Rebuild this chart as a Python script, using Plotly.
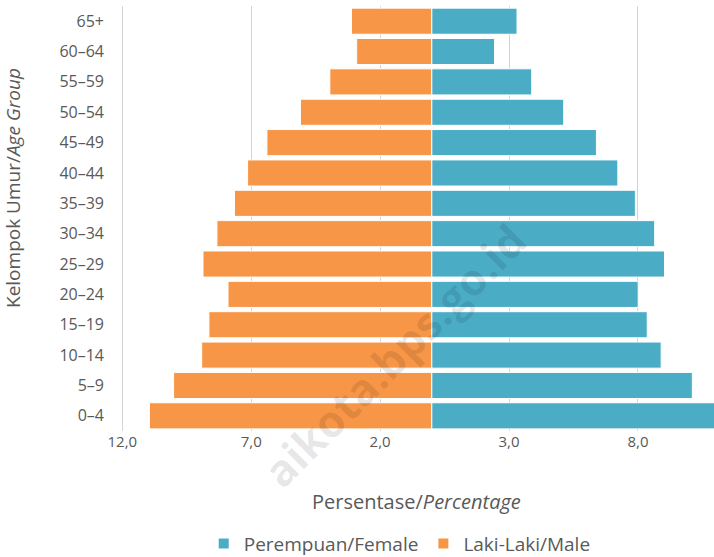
import plotly.graph_objects as go

age_groups = ["0–4", "5–9", "10–14", "15–19", "20–24", "25–29", "30–34",
              "35–39", "40–44", "45–49", "50–54", "55–59", "60–64", "65+"]
female = [11.3, 10.11, 8.90, 8.36, 8.01, 9.03, 8.65, 7.90, 7.22, 6.39, 5.12, 3.88, 2.44, 3.31]
male = [10.95, 10.01, 8.92, 8.64, 7.90, 8.87, 8.33, 7.65, 7.14, 6.39, 5.09, 3.95, 2.91, 3.11]
tick_vals = [-12, -7, -2, 3, 8]
tick_text = ["12,0", "7,0", "2,0", "3,0", "8,0"]

FONT = "Open Sans"
TXT = "#595959"

fig = go.Figure()
fig.add_trace(go.Bar(
    y=age_groups, x=female, orientation="h", name="Perempuan/Female",
    marker=dict(color="#4BACC6", line=dict(color="white", width=1)),
))
fig.add_trace(go.Bar(
    y=age_groups, x=[-v for v in male], orientation="h", name="Laki-Laki/Male",
    marker=dict(color="#F79646", line=dict(color="white", width=1)),
    customdata=male, hovertemplate="%{customdata}<extra></extra>",
))

fig.update_layout(
    width=714, height=557,
    margin=dict(l=121, r=0, t=6, b=126, autoexpand=False),
    barmode="relative", bargap=0.14,
    plot_bgcolor="white", paper_bgcolor="white",
    font=dict(family=FONT, color=TXT, size=15),
    legend=dict(orientation="h", x=0.47, xanchor="center", y=-0.265, yanchor="middle",
                font=dict(size=19, color=TXT), traceorder="normal",
                itemsizing="constant", itemwidth=30),
    xaxis=dict(range=[-12.05, 10.95], tickvals=tick_vals, ticktext=tick_text,
               showgrid=True, gridcolor="#D4D4D4", gridwidth=1.2, zeroline=False,
               showline=False, ticks="", tickfont=dict(size=15, color=TXT)),
    yaxis=dict(categoryorder="array", categoryarray=age_groups, showline=False,
               ticks="", showgrid=False,
               tickfont=dict(size=16, color=TXT), ticklabelstandoff=16),
    annotations=[
        dict(text="Persentase/<i>Percentage</i>", xref="paper", yref="paper",
             x=0.498, y=-0.166, showarrow=False, font=dict(size=20, color=TXT),
             xanchor="center", yanchor="middle"),
        dict(text="Kelompok Umur/<i>Age Group</i>", xref="paper", yref="paper",
             x=-0.181, y=0.571, showarrow=False, textangle=-90,
             font=dict(size=19, color=TXT), xanchor="center", yanchor="middle"),
        dict(text="<b>aikota.bps.go.id</b>", xref="paper", yref="paper",
             x=(395 - 122) / 592, y=(430.5 - 355) / 424.5, showarrow=False,
             textangle=-45, font=dict(size=44, color="rgba(0,0,0,0.09)"),
             xanchor="center", yanchor="middle"),
    ],
)

fig.write_html("out.html", config={"displayModeBar": False},
               post_script="document.body.style.margin='0px';document.body.style.overflow='hidden';")
